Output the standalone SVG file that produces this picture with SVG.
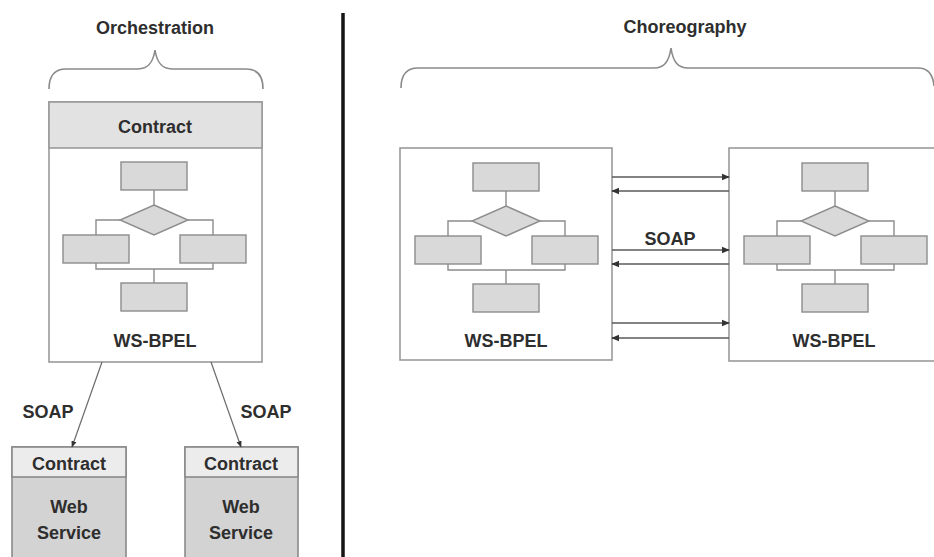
<svg xmlns="http://www.w3.org/2000/svg" width="934" height="557" viewBox="0 0 934 557">
  <defs>
    <style>
      .lbl { font-family: "Liberation Sans", Arial, sans-serif; font-weight: bold; font-size: 18px; fill: #2e2e2e; text-anchor: middle; }
      .box { fill: #fff; stroke: #9a9a9a; stroke-width: 1.6; }
      .hdr { fill: #e2e2e2; stroke: #9a9a9a; stroke-width: 1.6; }
      .hdr2 { fill: #ececec; stroke: #8a8a8a; stroke-width: 1.6; }
      .body2 { fill: #d3d3d3; stroke: #8a8a8a; stroke-width: 1.6; }
      .step { fill: #d9d9d9; stroke: #8c8c8c; stroke-width: 1.4; }
      .flow { fill: none; stroke: #8c8c8c; stroke-width: 1.4; }
      .brace { fill: none; stroke: #8a8a8a; stroke-width: 1.6; }
      .msg { fill: none; stroke: #5a5a5a; stroke-width: 1.5; }
      .call { fill: none; stroke: #6a6a6a; stroke-width: 1.2; }
    </style>
    <marker id="head" viewBox="0 0 10 10" refX="9" refY="5" markerWidth="5.5" markerHeight="5.5" orient="auto" markerUnits="strokeWidth">
      <path d="M0,1 L10,5 L0,9 Z" fill="#333"/>
    </marker>
    <!-- reusable flowchart: step, decision, two branches, merge step -->
    <g id="flowchart">
      <rect class="step" x="-33" y="0" width="66" height="28"/>
      <line class="flow" x1="0" y1="28" x2="0" y2="43"/>
      <polygon class="step" points="0,43 34,58 0,73 -34,58"/>
      <polyline class="flow" points="-34,58 -58,58 -58,73"/>
      <polyline class="flow" points="34,58 59,58 59,73"/>
      <rect class="step" x="-91" y="73" width="66" height="28"/>
      <rect class="step" x="26" y="73" width="66" height="28"/>
      <polyline class="flow" points="-58,101 -58,107 59,107 59,101"/>
      <line class="flow" x1="0" y1="107" x2="0" y2="121"/>
      <rect class="step" x="-33" y="121" width="66" height="28"/>
    </g>
  </defs>

  <rect x="0" y="0" width="934" height="557" fill="#fff"/>

  <!-- section divider -->
  <line x1="343" y1="13" x2="343" y2="557" stroke="#151515" stroke-width="3.5"/>

  <!-- section titles and braces -->
  <g id="orchestration-title">
    <text class="lbl" x="155" y="34">Orchestration</text>
    <path class="brace" d="M49,89 C49,76 54,69 66,69 L138,69 C148,69 153,63 155,50 C157,63 162,69 172,69 L246,69 C258,69 263,76 263,89"/>
  </g>
  <g id="choreography-title">
    <text class="lbl" x="685" y="33">Choreography</text>
    <path class="brace" d="M401,88 C401,75 406,68 418,68 L654,68 C664,68 669,62 671,48 C673,62 678,68 688,68 L918,68 C928,68 933,74 934,86"/>
  </g>

  <!-- orchestrating WS-BPEL process with its contract -->
  <g id="orchestrator">
    <rect class="box" x="49" y="102" width="213" height="260"/>
    <rect class="hdr" x="49" y="102" width="213" height="46"/>
    <text class="lbl" x="155" y="133">Contract</text>
    <use href="#flowchart" x="154" y="162"/>
    <text class="lbl" x="155" y="347">WS-BPEL</text>
  </g>

  <!-- invoked web services -->
  <g id="service-left">
    <rect class="body2" x="12" y="447" width="114" height="115"/>
    <rect class="hdr2" x="12" y="447" width="114" height="30"/>
    <text class="lbl" x="69" y="470">Contract</text>
    <text class="lbl" x="69" y="513">Web</text>
    <text class="lbl" x="69" y="539">Service</text>
  </g>
  <g id="service-right">
    <rect class="body2" x="185" y="447" width="113" height="115"/>
    <rect class="hdr2" x="185" y="447" width="113" height="30"/>
    <text class="lbl" x="241" y="470">Contract</text>
    <text class="lbl" x="241" y="513">Web</text>
    <text class="lbl" x="241" y="539">Service</text>
  </g>

  <!-- peer WS-BPEL processes -->
  <g id="peer-left">
    <rect class="box" x="400" y="148" width="212" height="212"/>
    <use href="#flowchart" x="506" y="163"/>
    <text class="lbl" x="506" y="347">WS-BPEL</text>
  </g>
  <g id="peer-right">
    <rect class="box" x="729" y="148" width="215" height="213"/>
    <use href="#flowchart" x="835" y="163"/>
    <text class="lbl" x="834" y="347">WS-BPEL</text>
  </g>

  <!-- connectors -->
  <g id="connectors">
    <line class="call" x1="102" y1="362" x2="72" y2="447" marker-end="url(#head)"/>
    <line class="call" x1="211" y1="362" x2="241" y2="447" marker-end="url(#head)"/>

    <line class="msg" x1="612" y1="177" x2="729" y2="177" marker-end="url(#head)"/>
    <line class="msg" x1="729" y1="191" x2="612" y2="191" marker-end="url(#head)"/>
    <line class="msg" x1="612" y1="250" x2="729" y2="250" marker-end="url(#head)"/>
    <line class="msg" x1="729" y1="264" x2="612" y2="264" marker-end="url(#head)"/>
    <line class="msg" x1="612" y1="323" x2="729" y2="323" marker-end="url(#head)"/>
    <line class="msg" x1="729" y1="338" x2="612" y2="338" marker-end="url(#head)"/>
  </g>

  <!-- protocol labels -->
  <text class="lbl" x="48" y="418">SOAP</text>
  <text class="lbl" x="266" y="418">SOAP</text>
  <text class="lbl" x="670" y="245">SOAP</text>
</svg>
